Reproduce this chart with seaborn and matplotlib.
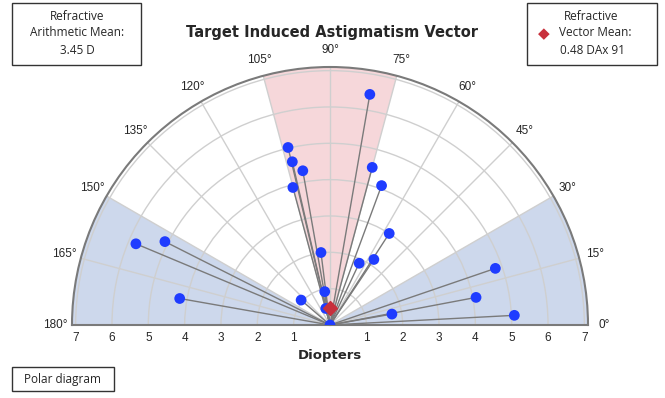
import numpy as np
import matplotlib
matplotlib.use("Agg")
import matplotlib.pyplot as plt
from matplotlib.patches import Rectangle
import seaborn as sns

# data (axis in degrees, magnitude in diopters)
axis_deg = [80.2, 75.0, 69.7, 57.1, 56.2, 64.7, 18.9, 10.7, 10.0, 3.0,
            99.0, 97.1, 103.3, 103.0, 100.0, 105.1, 139.2, 104.4, 90.0,
            153.2, 157.3, 170.0]
magnitude = [6.44, 4.49, 4.09, 3.00, 2.17, 1.88, 4.81, 4.09, 1.73, 5.08,
             0.93, 2.01, 5.02, 4.61, 4.31, 3.92, 1.05, 0.47, 0.0,
             5.09, 5.79, 4.20]
mean_axis = 91
mean_mag = 0.48
arith_mean = 3.45

red_zone = (75, 105)
blue_zones = [(0, 30), (150, 180)]
theta_ticks = list(range(0, 181, 15))
r_ticks = [1, 2, 3, 4, 5, 6, 7]

sns.set_theme(style="white")
plt.rcParams["font.family"] = ["Liberation Sans", "DejaVu Sans"]

W, H = 665, 398
fig = plt.figure(figsize=(W / 100, H / 100), dpi=100)

# half disc: origin at (330, 325) px, radius 258 px -> square axes of side 516
side = 516
cy = 325 - 129
ax = fig.add_axes([72 / W, (H - (cy + side / 2)) / H, side / W, side / H],
                  projection="polar")
ax.set_thetamin(0)
ax.set_thetamax(180)
ax.set_ylim(0, 7.1)

# shaded sectors
for lo, hi in blue_zones:
    ax.bar(np.deg2rad((lo + hi) / 2), 7.1, width=np.deg2rad(hi - lo), bottom=0,
           color="#cdd8ec", edgecolor="none", zorder=0)
ax.bar(np.deg2rad(sum(red_zone) / 2), 7.1, width=np.deg2rad(red_zone[1] - red_zone[0]),
       bottom=0, color="#f6d7da", edgecolor="none", zorder=0)

ax.set_thetagrids(theta_ticks, [f"{t}°" for t in theta_ticks], fontsize=8.5)
ax.set_rgrids(r_ticks, labels=[""] * len(r_ticks))
ax.grid(True, color="#cfcfcf", linewidth=1)
ax.tick_params(axis="x", pad=-1)
for name, sp in ax.spines.items():
    sp.set_color("#7a7a7a")
    sp.set_linewidth(1.5)

th = np.deg2rad(axis_deg)
for t, r in zip(th, magnitude):
    ax.plot([0, t], [0, r], color="#7a7a7a", linewidth=1, zorder=2)
sns.scatterplot(x=th, y=magnitude, ax=ax, color="#1f3cff", s=60,
                edgecolor="none", zorder=3, legend=False)
ax.scatter([np.deg2rad(mean_axis)], [mean_mag], marker="D", s=50,
           color="#c8303c", zorder=4)

# radial labels on both sides of the baseline (no label at the centre)
for r in r_ticks:
    for t in (0, np.pi):
        ax.annotate(str(r), (t, r), xytext=(0, -5), textcoords="offset points",
                    ha="center", va="top", fontsize=8.5, annotation_clip=False)

fig.text(332 / W, 1 - 32 / H, "Target Induced Astigmatism Vector",
         ha="center", va="center", fontsize=10.5, fontweight="bold",
         family="DejaVu Sans")
fig.text(330 / W, 1 - 356 / H, "Diopters", ha="center", va="center",
         fontsize=9.5, fontweight="bold", family="DejaVu Sans")


def box(x0, y0, x1, y1):
    fig.add_artist(Rectangle((x0 / W, 1 - y1 / H), (x1 - x0) / W, (y1 - y0) / H,
                             transform=fig.transFigure, facecolor="white",
                             edgecolor="#333333", linewidth=1))


def label(x, y, s, **kw):
    fig.text(x / W, 1 - y / H, s, ha="center", va="center", fontsize=8.5,
             family="Open Sans", **kw)


box(12, 3, 141, 65)
label(77, 17, "Refractive")
label(77, 33, "Arithmetic Mean:")
label(77, 50, f"{arith_mean:.2f} D")

box(527, 3, 657, 65)
label(591, 17, "Refractive")
label(595, 33, "Vector Mean:")
label(592, 50, f"{mean_mag:.2f} DAx {mean_axis}")
fig.text(544 / W, 1 - 34 / H, "◆", color="#c8303c", ha="center", va="center",
         fontsize=11, family="DejaVu Sans")

box(12, 367, 114, 391)
label(63, 379, "Polar diagram")

fig.savefig("out.png", dpi=100)
